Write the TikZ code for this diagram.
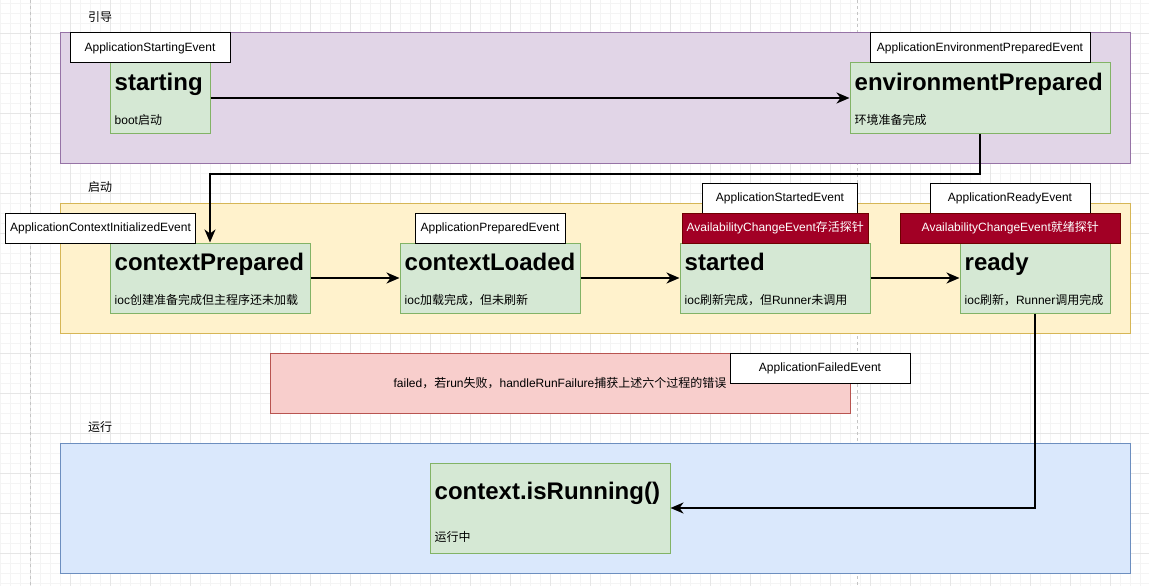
\documentclass[tikz,border=0pt]{standalone}
\usepackage{fontspec}
\setmainfont{Liberation Sans}
\newfontfamily\cjk{Noto Sans CJK SC}
\usetikzlibrary{arrows.meta}
\definecolor{gridminor}{HTML}{F4F4F4}
\definecolor{gridmajor}{HTML}{E6E6E6}
\definecolor{pagebrk}{HTML}{C4C4C4}
\definecolor{purfill}{HTML}{E1D5E7}
\definecolor{purline}{HTML}{9673A6}
\definecolor{yelfill}{HTML}{FFF2CC}
\definecolor{yelline}{HTML}{D6B656}
\definecolor{blufill}{HTML}{DAE8FC}
\definecolor{bluline}{HTML}{6C8EBF}
\definecolor{grnfill}{HTML}{D5E8D4}
\definecolor{grnline}{HTML}{82B366}
\definecolor{redfill}{HTML}{F8CECC}
\definecolor{redline}{HTML}{B85450}
\definecolor{avfill}{HTML}{A20025}
\definecolor{avline}{HTML}{6F0000}
\newcommand{\smallfnt}{\fontsize{12}{14}\selectfont}
\newcommand{\titlefnt}{\fontsize{24}{28}\selectfont\bfseries}
\tikzset{
  plainbox/.style={rectangle, draw, inner sep=0pt, line width=1pt, font=\smallfnt, align=center},
  container/.style={plainbox},
  statebox/.style={plainbox, fill=grnfill, draw=grnline},
  evbox/.style={plainbox, fill=white, draw=black},
  avbox/.style={plainbox, fill=avfill, draw=avline, text=white},
  failbox/.style={plainbox, fill=redfill, draw=redline},
  stitle/.style={inner sep=0pt, font=\titlefnt, anchor=base west},
  ssub/.style={inner sep=0pt, font=\smallfnt, anchor=base west},
  clabel/.style={inner sep=0pt, font=\smallfnt},
  conn/.style={line width=2pt, -{Stealth[length=13pt,width=11pt,inset=4pt]}},
}
\begin{document}
\begin{tikzpicture}[x=1pt,y=-1pt]
\useasboundingbox (0,0) rectangle (1149,586);
\fill[white] (0,0) rectangle (1149,586);
% grid
\foreach \g in {0.7,10.7,...,1149} \draw[gridminor, line width=0.8pt] (\g,0) -- (\g,586);
\foreach \g in {3.3,13.3,...,586} \draw[gridminor, line width=0.8pt] (0,\g) -- (1149,\g);
\foreach \g in {30.7,70.7,...,1149} \draw[gridmajor, line width=0.8pt] (\g,0) -- (\g,586);
\foreach \g in {33.3,73.3,...,586} \draw[gridmajor, line width=0.8pt] (0,\g) -- (1149,\g);
\draw[pagebrk, line width=0.8pt, dash pattern=on 3pt off 3pt] (30.7,0) -- (30.7,586);
\draw[pagebrk, line width=0.8pt, dash pattern=on 3pt off 3pt] (857.3,0) -- (857.3,586);

% containers
\node[container, fill=purfill, draw=purline, minimum width=1070pt, minimum height=130pt] (boot) at (595,98) {};
\node[container, fill=yelfill, draw=yelline, minimum width=1070pt, minimum height=130pt] (launch) at (595,268) {};
\node[container, fill=blufill, draw=bluline, minimum width=1070pt, minimum height=130pt] (run) at (595,508) {};
\node[clabel] (lboot) at (100,17) {\cjk 引导};
\node[clabel] (llaunch) at (100,187) {\cjk 启动};
\node[clabel] (lrun) at (100,427) {\cjk 运行};

% state boxes
\node[statebox, minimum width=100pt, minimum height=70pt] (starting) at (160,98) {};
\node[statebox, minimum width=260pt, minimum height=70pt] (envP) at (980,98) {};
\node[statebox, minimum width=200pt, minimum height=70pt] (ctxP) at (210,278) {};
\node[statebox, minimum width=180pt, minimum height=70pt] (ctxL) at (490,278) {};
\node[statebox, minimum width=190pt, minimum height=70pt] (started) at (775,278) {};
\node[statebox, minimum width=150pt, minimum height=70pt] (ready) at (1035,278) {};
\node[statebox, minimum width=240pt, minimum height=90pt] (running) at (550,508) {};

\node[stitle] (tstarting) at ([xshift=5pt,yshift=-27.5pt]starting.north west) {starting};
\node[ssub] (sstarting) at ([xshift=5pt,yshift=-62pt]starting.north west) {boot{\cjk 启动}};
\node[stitle] (tenvP) at ([xshift=5pt,yshift=-27.5pt]envP.north west) {environmentPrepared};
\node[ssub] (senvP) at ([xshift=5pt,yshift=-62pt]envP.north west) {\cjk 环境准备完成};
\node[stitle] (tctxP) at ([xshift=5pt,yshift=-27.5pt]ctxP.north west) {contextPrepared};
\node[ssub] (sctxP) at ([xshift=5pt,yshift=-62pt]ctxP.north west) {ioc{\cjk 创建准备完成但主程序还未加载}};
\node[stitle] (tctxL) at ([xshift=5pt,yshift=-27.5pt]ctxL.north west) {contextLoaded};
\node[ssub] (sctxL) at ([xshift=5pt,yshift=-62pt]ctxL.north west) {ioc{\cjk 加载完成，但未刷新}};
\node[stitle] (tstarted) at ([xshift=5pt,yshift=-27.5pt]started.north west) {started};
\node[ssub] (sstarted) at ([xshift=5pt,yshift=-62pt]started.north west) {ioc{\cjk 刷新完成，但}Runner{\cjk 未调用}};
\node[stitle] (tready) at ([xshift=5pt,yshift=-27.5pt]ready.north west) {ready};
\node[ssub] (sready) at ([xshift=5pt,yshift=-62pt]ready.north west) {ioc{\cjk 刷新，}Runner{\cjk 调用完成}};
\node[stitle] (trunning) at ([xshift=5pt,yshift=-36.5pt]running.north west) {context.isRunning()};
\node[ssub] (srunning) at ([xshift=5pt,yshift=-78.5pt]running.north west) {\cjk 运行中};

% failed box
\node[failbox, minimum width=580pt, minimum height=60pt] (failed) at (560,383) {failed{\cjk ，若}run{\cjk 失败，}handleRunFailure{\cjk 捕获上述六个过程的错误}};

% event boxes
\node[evbox, minimum width=160pt, minimum height=30pt] (evStarting) at (150,48) {ApplicationStartingEvent};
\node[evbox, minimum width=220pt, minimum height=30pt] (evEnv) at (980,48) {ApplicationEnvironmentPreparedEvent};
\node[evbox, minimum width=190pt, minimum height=30pt] (evCtxInit) at (100.5,228) {ApplicationContextInitializedEvent};
\node[evbox, minimum width=150pt, minimum height=30pt] (evPrepared) at (490,228) {ApplicationPreparedEvent};
\node[evbox, minimum width=155pt, minimum height=30pt] (evStarted) at (780,198) {ApplicationStartedEvent};
\node[avbox, minimum width=186pt, minimum height=30pt] (avStarted) at (775.3,228) {AvailabilityChangeEvent{\cjk 存活探针}};
\node[evbox, minimum width=160pt, minimum height=30pt] (evReady) at (1010,198) {ApplicationReadyEvent};
\node[avbox, minimum width=220pt, minimum height=30pt] (avReady) at (1010.3,228) {AvailabilityChangeEvent{\cjk 就绪探针}};
\node[evbox, minimum width=180pt, minimum height=30pt] (evFailed) at (820,368) {ApplicationFailedEvent};

% connectors
\draw[conn] (starting.east) -- (envP.west);
\draw[conn] (envP.south) -- ++(0,40) -| (ctxP.north);
\draw[conn] (ctxP.east) -- (ctxL.west);
\draw[conn] (ctxL.east) -- (started.west);
\draw[conn] (started.east) -- (ready.west);
\draw[conn] (ready.south) |- (running.east);
\end{tikzpicture}
\end{document}
